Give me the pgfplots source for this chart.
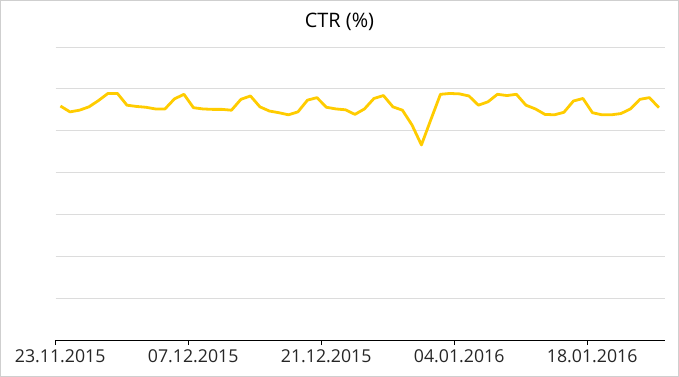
\documentclass[border=0pt]{standalone}
\usepackage{fontspec}
\setmainfont{Open Sans}
\usepackage{pgfplots}
\pgfplotsset{compat=1.18}
\definecolor{ctr}{HTML}{FFCC00}
\definecolor{gridc}{HTML}{DCDCDC}
\definecolor{framec}{HTML}{CFCFCF}
\begin{document}
\begin{tikzpicture}
\useasboundingbox (-55.7bp,-37bp) rectangle (623.3bp,340bp);
\draw[framec, line width=1.4bp] (-55.0bp,-36.3bp) rectangle (622.6bp,339.3bp);
\node[font=\fontsize{20}{23}\selectfont, text=black] at (283.8bp,318.5bp) {CTR (\%)};
\begin{axis}[
  at={(0,0)}, anchor=south west,
  scale only axis, width=609.3bp, height=293bp,
  xmin=0, xmax=64.14, ymin=0, ymax=7,
  axis x line=bottom, axis y line=left,
  x axis line style={-, black, line width=0.8bp},
  y axis line style={draw=none},
  ytick={1,2,3,4,5,6,7}, yticklabels={}, ytick style={draw=none},
  ymajorgrids, grid style={gridc, line width=0.9bp},
  xtick={0,14,28,42,56},
  xticklabels={23.11.2015,07.12.2015,21.12.2015,04.01.2016,18.01.2016},
  tick align=outside, major tick length=5bp,
  xtick style={black, line width=0.8bp},
  xticklabel style={xshift=4.5bp, yshift=-1.5bp, font=\fontsize{17.8}{20}\selectfont, text=black!85},
]
\addplot[ctr, line width=2.8bp, line join=round, mark=none] table {
x y
0.5 5.59
1.5 5.45
2.5 5.49
3.5 5.57
4.5 5.72
5.5 5.89
6.5 5.89
7.5 5.61
8.5 5.58
9.5 5.56
10.5 5.52
11.5 5.52
12.5 5.76
13.5 5.87
14.5 5.55
15.5 5.52
16.5 5.51
17.5 5.51
18.5 5.49
19.5 5.75
20.5 5.83
21.5 5.57
22.5 5.47
23.5 5.43
24.5 5.38
25.5 5.45
26.5 5.73
27.5 5.79
28.5 5.56
29.5 5.52
30.5 5.50
31.5 5.39
32.5 5.52
33.5 5.77
34.5 5.84
35.5 5.57
36.5 5.49
37.5 5.14
38.5 4.66
39.5 5.27
40.5 5.87
41.5 5.89
42.5 5.88
43.5 5.83
44.5 5.61
45.5 5.69
46.5 5.87
47.5 5.84
48.5 5.87
49.5 5.61
50.5 5.52
51.5 5.39
52.5 5.38
53.5 5.44
54.5 5.71
55.5 5.77
56.5 5.43
57.5 5.38
58.5 5.38
59.5 5.41
60.5 5.52
61.5 5.75
62.5 5.79
63.5 5.55
};
\end{axis}
\end{tikzpicture}
\end{document}
